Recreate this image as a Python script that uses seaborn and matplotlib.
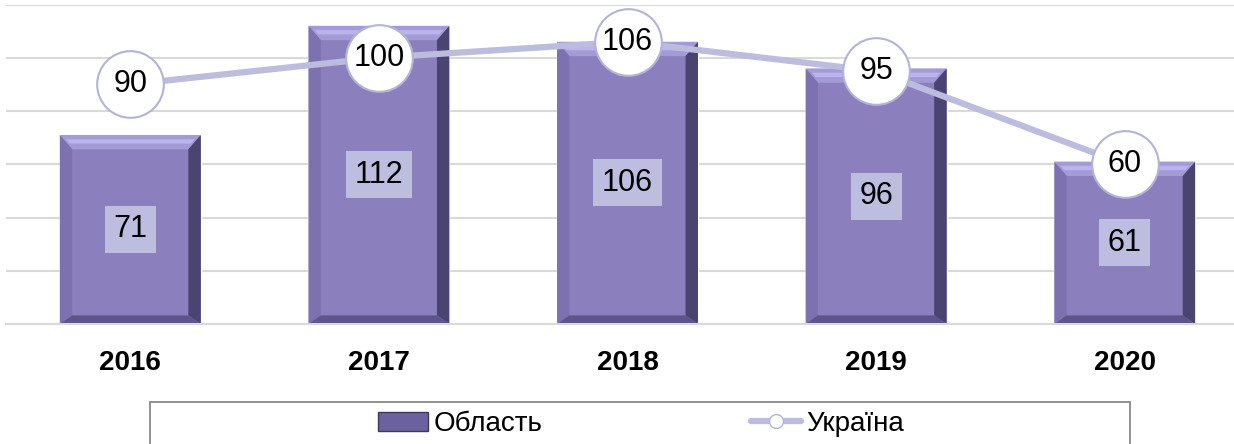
import numpy as np
import pandas as pd
import seaborn as sns
import matplotlib.pyplot as plt
from matplotlib.patches import Polygon, Rectangle
from matplotlib.lines import Line2D

years = ['2016', '2017', '2018', '2019', '2020']
oblast = [71, 112, 106, 96, 61]
ukraine = [90, 100, 106, 95, 60]

df = pd.DataFrame({'year': years, 'Область': oblast, 'Україна': ukraine})

sns.set_style("white")
plt.rcParams['font.family'] = ['Liberation Sans', 'DejaVu Sans']
plt.rcParams['text.color'] = 'black'
plt.rcParams['xtick.color'] = 'black'

bar_color = '#8b80bd'
line_color = '#bcbcdf'

fig = plt.figure(figsize=(12.34, 4.44), dpi=100)
ax = fig.add_axes([6 / 1234, 120 / 444, 1243 / 1234, 319.5 / 444])

sns.barplot(data=df, x='year', y='Область', color=bar_color, width=0.567,
            saturation=1, ax=ax, zorder=2)

# bevel effect on each bar
bx, by = 0.05, 5.4
for p in ax.patches[:]:
    x0, y0, w, h = p.get_x(), p.get_y(), p.get_width(), p.get_height()
    x1, y1 = x0 + w, y0 + h
    inner = [(x0 + bx, y0 + by * 0.6), (x1 - bx, y0 + by * 0.6), (x1 - bx, y1 - by), (x0 + bx, y1 - by)]
    sides = [
        ([(x0, y1), (x1, y1), inner[2], inner[3]], '#a39bd6'),  # top
        ([(x0, y0), (x0, y1), inner[3], inner[0]], '#7d72af'),  # left
        ([(x1, y0), (x1, y1), inner[2], inner[1]], '#4a4470'),  # right
        ([(x0, y0), (x1, y0), inner[1], inner[0]], '#5d5589'),  # bottom
    ]
    for pts, c in sides:
        ax.add_patch(Polygon(pts, closed=True, facecolor=c, edgecolor='none', zorder=2.5))
    ax.add_patch(Polygon([(x0 + bx * 0.5, y1 - by * 0.3), (x1 - bx * 0.5, y1 - by * 0.3),
                          (x1 - bx * 0.8, y1 - by * 0.6), (x0 + bx * 0.8, y1 - by * 0.6)],
                         closed=True, facecolor='#bab3ec', edgecolor='none', zorder=2.6))
    ax.text(x0 + w / 2, h / 2, f'{h:.0f}', ha='center', va='center', fontsize=22,
            color='black', zorder=3,
            bbox=dict(boxstyle='square,pad=0.28', facecolor='#bdbde0', edgecolor='none'))

sns.lineplot(data=df, x='year', y='Україна', color=line_color, linewidth=4.5,
             marker='o', markersize=48, markerfacecolor='white',
             markeredgecolor='#b3b3da', markeredgewidth=1.5, ax=ax, zorder=4)
for i, v in enumerate(ukraine):
    ax.text(i, v, str(v), ha='center', va='center', fontsize=22, color='black', zorder=5)

ax.set_ylim(0, 120)
ax.set_xlim(-0.5, 4.5)
ax.set_yticks(np.arange(0, 121, 20))
ax.yaxis.grid(True, color='#d9d9d9', linewidth=1.5, zorder=0)
ax.set_axisbelow(True)
ax.tick_params(axis='y', left=False, labelleft=False)
ax.tick_params(axis='x', bottom=False, pad=15)
for lbl in ax.get_xticklabels():
    lbl.set_fontsize(20)
    lbl.set_fontweight('bold')
    lbl.set_color('black')
ax.set_xlabel('')
ax.set_ylabel('')
for s in ['top', 'right', 'left']:
    ax.spines[s].set_visible(False)
ax.spines['bottom'].set_color('#d9d9d9')
ax.spines['bottom'].set_linewidth(1.5)

# legend
fig.patches.append(Rectangle((150 / 1234, -0.1), 980 / 1234, 0.1 + 42 / 444,
                             transform=fig.transFigure, facecolor='none',
                             edgecolor='#7f7f7f', linewidth=1.2))
handles = [Rectangle((0, 0), 1, 1, facecolor='#6b619e', edgecolor='#3f3a5a'),
           Line2D([], [], color=line_color, linewidth=4.5, marker='o', markersize=10,
                  markerfacecolor='white', markeredgecolor='#b3b3da')]
fig.legend(handles, ['Область', 'Україна'], loc='center', ncol=2,
           bbox_to_anchor=(641 / 1234, 20 / 444), frameon=False, fontsize=20,
           handlelength=1.8, handletextpad=0.2, columnspacing=7.5)

fig.savefig('out.png', dpi=100)
